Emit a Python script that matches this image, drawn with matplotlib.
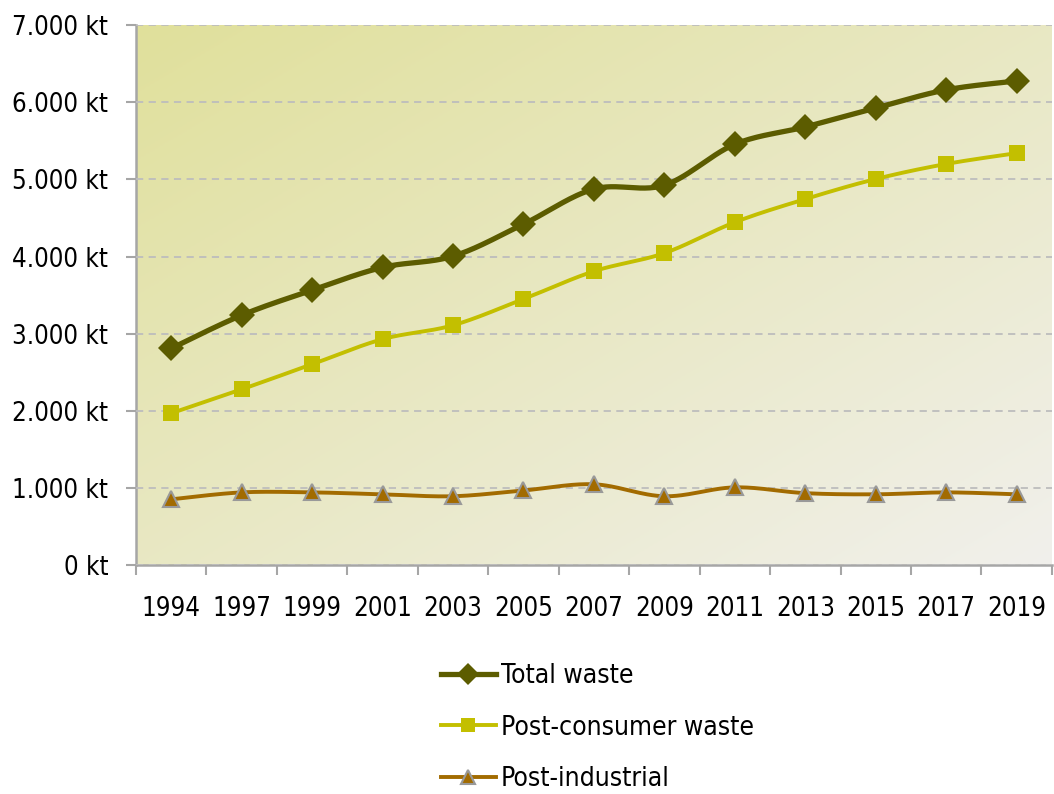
import numpy as np
import matplotlib
matplotlib.use("Agg")
import matplotlib.pyplot as plt
from matplotlib.ticker import FuncFormatter, FixedLocator

# narrow look, closest installed is dejavu condensed
plt.rcParams['font.family'] = ['DejaVu Sans']
plt.rcParams['font.stretch'] = 'condensed'

# data (kt)
years = ["1994", "1997", "1999", "2001", "2003", "2005", "2007",
         "2009", "2011", "2013", "2015", "2017", "2019"]
total_waste = [2810, 3240, 3565, 3860, 4005, 4420, 4875, 4925, 5455, 5680, 5925, 6160, 6275]
post_consumer = [1970, 2280, 2605, 2930, 3110, 3450, 3810, 4045, 4445, 4745, 5005, 5200, 5340]
post_industrial = [855, 945, 945, 920, 895, 970, 1050, 895, 1010, 935, 920, 945, 920]


def smooth(x, y, n=30):
    # catmull-rom style bezier, like excel's smoothed lines
    x = np.asarray(x, float)
    y = np.asarray(y, float)
    px, py = [], []
    for i in range(len(x) - 1):
        x0, y0 = (x[i - 1], y[i - 1]) if i > 0 else (x[i], y[i])
        x3, y3 = (x[i + 2], y[i + 2]) if i + 2 < len(x) else (x[i + 1], y[i + 1])
        x1, y1, x2, y2 = x[i], y[i], x[i + 1], y[i + 1]
        c1x, c1y = x1 + (x2 - x0) / 6, y1 + (y2 - y0) / 6
        c2x, c2y = x2 - (x3 - x1) / 6, y2 - (y3 - y1) / 6
        t = np.linspace(0, 1, n)
        a, b, c, d = (1 - t) ** 3, 3 * t * (1 - t) ** 2, 3 * t ** 2 * (1 - t), t ** 3
        px.extend(a * x1 + b * c1x + c * c2x + d * x2)
        py.extend(a * y1 + b * c1y + c * c2y + d * y2)
    return np.array(px), np.array(py)


fig = plt.figure(figsize=(10.54, 7.94), dpi=100)
ax = fig.add_axes([0.129, 0.288, 0.869, 0.6805])

xs = np.arange(len(years))
ax.set_xlim(-0.5, len(years) - 0.5)
ax.set_ylim(0, 7000)

# background gradient, top-left yellowish to bottom-right grey
gx, gy = np.meshgrid(np.linspace(0, 1, 200), np.linspace(0, 1, 200))
g = np.clip((gx + gy) / 2, 0, 1)
c_tl = np.array([224, 224, 155]) / 255
c_br = np.array([241, 240, 236]) / 255
grad = c_tl[None, None, :] * (1 - g[..., None]) + c_br[None, None, :] * g[..., None]
ax.imshow(grad, extent=[0, 1, 0, 1], transform=ax.transAxes, aspect='auto',
          zorder=0, origin='upper')

ax.yaxis.set_major_locator(FixedLocator(np.arange(0, 7001, 1000)))
ax.yaxis.set_major_formatter(FuncFormatter(lambda v, p: f"{int(v):,} kt".replace(",", ".")))
ax.grid(axis='y', color='#bdbdbd', linestyle=(0, (4, 3)), linewidth=1.3, zorder=1)
ax.set_axisbelow(False)

ax.set_xticks(np.arange(-0.5, len(years), 1.0))
ax.set_xticklabels([])
ax.set_xticks(xs, minor=True)
ax.set_xticklabels(years, minor=True)
ax.tick_params(axis='x', which='major', length=7, width=1.5, color='#a6a6a6', direction='out')
ax.tick_params(axis='x', which='minor', length=0, labelsize=18.5, pad=22)
ax.tick_params(axis='y', length=7, width=1.5, color='#a6a6a6', labelsize=18.5, pad=13)

for s in ['top', 'right']:
    ax.spines[s].set_visible(False)
for s in ['left', 'bottom']:
    ax.spines[s].set_color('#a6a6a6')
    ax.spines[s].set_linewidth(1.8)

series = [
    ("Total waste", total_waste, '#5c5c00', 'D', 13, 3.8, '#5c5c00'),
    ("Post-consumer waste", post_consumer, '#c3bf00', 's', 11.5, 2.8, '#c3bf00'),
    ("Post-industrial", post_industrial, '#a26b00', '^', 12, 2.8, '#999999'),
]
handles = []
for name, vals, col, mk, ms, lw, ec in series:
    sx, sy = smooth(xs, vals)
    ax.plot(sx, sy, color=col, linewidth=lw, zorder=3, solid_capstyle='round')
    ax.plot(xs, vals, linestyle='none', marker=mk, markersize=ms, color=col,
            markeredgecolor=ec, markeredgewidth=1.5 if mk == '^' else 0, zorder=4)
    h, = plt.plot([], [], color=col, linewidth=lw, marker=mk, markersize=ms * 0.85,
                  markeredgecolor=ec, markeredgewidth=1.5 if mk == '^' else 0)
    handles.append(h)

fig.legend(handles, [s[0] for s in series], loc='lower center',
           bbox_to_anchor=(0.567, -0.028), frameon=False, fontsize=19,
           handlelength=2.05, handletextpad=0.2, labelspacing=0.98)

fig.savefig("out.png", dpi=100)
